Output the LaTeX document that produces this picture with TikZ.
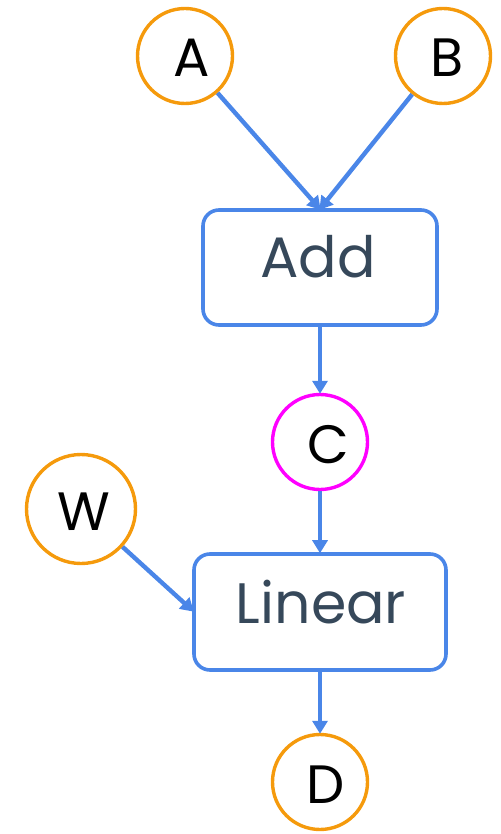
\documentclass[tikz,border=0pt]{standalone}
\usepackage{fontspec}
\setmainfont{Poppins}
\usetikzlibrary{arrows.meta}
\definecolor{orng}{HTML}{F59A0C}
\definecolor{blu}{HTML}{4A86E8}
\definecolor{mag}{HTML}{FF00FF}
\definecolor{slate}{HTML}{36485A}
\tikzset{
  var/.style={circle, draw=orng, line width=3.4pt, minimum size=95pt, inner sep=0pt},
  op/.style={draw=blu, line width=3.6pt, rounded corners=16pt, inner sep=0pt},
  lbl/.style={font=\fontsize{54}{54}\selectfont, text=black},
  oplbl/.style={font=\fontsize{57}{57}\selectfont, text=slate},
  edge/.style={draw=blu, line width=4.4pt, -{Triangle[length=13pt,width=15pt]}, shorten >=-1pt}
}
\begin{document}
\begin{tikzpicture}[x=1pt,y=-1pt]
\useasboundingbox (0,0) rectangle (500,834);
\node[var] (A) at (185,56) {};
\node[var] (B) at (443,56) {};
\node[var, draw=mag] (C) at (320,442) {};
\node[var, minimum size=109pt] (W) at (81,509) {};
\node[var] (D) at (320,782) {};
\node[op, minimum width=234pt, minimum height=115pt] (Add) at (320,267.5) {};
\node[op, minimum width=252pt, minimum height=116pt] (Lin) at (320,612) {};
\node[lbl] (tA) at (192,58) {A};
\node[lbl] (tB) at (447,58) {B};
\node[lbl] (tC) at (328,445) {C};
\node[lbl] (tW) at (84,512) {W};
\node[lbl] (tD) at (326,785) {D};
\node[oplbl] (tAdd) at (318,257) {Add};
\node[oplbl] (tLin) at (321,602) {Linear};
\coordinate (addtop) at (320,209);
\coordinate (lineft) at (193,611);
\draw[edge] (A) -- (addtop);
\draw[edge] (B) -- (addtop);
\draw[edge] (Add) -- (C);
\draw[edge] (C) -- (Lin);
\draw[edge] (W) -- (lineft);
\draw[edge] (Lin) -- (D);
\end{tikzpicture}
\end{document}
